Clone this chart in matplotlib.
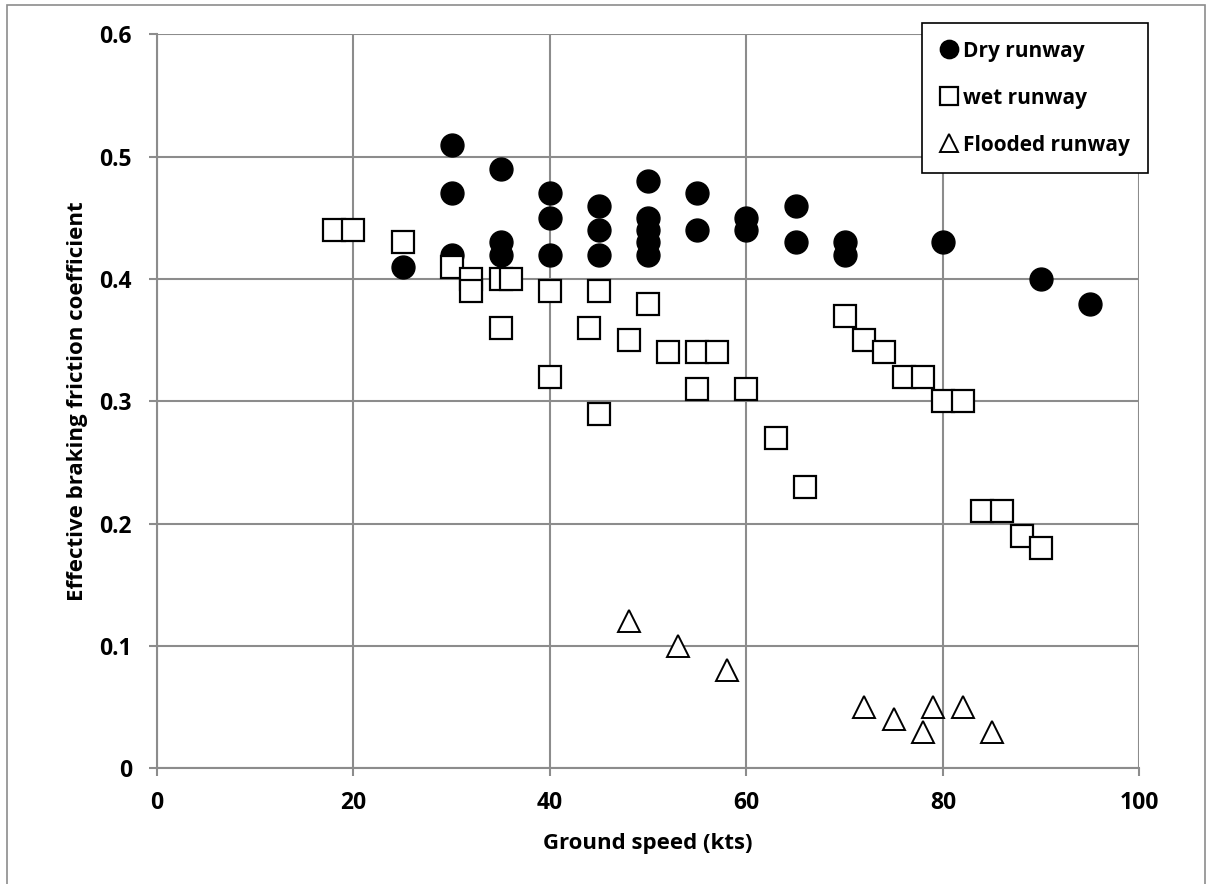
import matplotlib.pyplot as plt
from matplotlib.patches import Rectangle

# ground speed (kts) and effective braking friction coefficient
dry_speed = [25, 30, 30, 30, 35, 35, 35, 40, 40, 40, 45, 45, 45,
             50, 50, 50, 50, 50, 55, 55, 60, 60, 65, 65, 70, 70, 80, 90, 95]
dry_mu = [0.41, 0.51, 0.47, 0.42, 0.49, 0.43, 0.42, 0.47, 0.45, 0.42, 0.46, 0.44, 0.42,
          0.48, 0.45, 0.44, 0.43, 0.42, 0.47, 0.44, 0.45, 0.44, 0.46, 0.43, 0.43, 0.42, 0.43, 0.40, 0.38]

wet_speed = [18, 20, 25, 30, 32, 32, 35, 36, 35, 40, 40, 44, 45, 45, 48, 50,
             52, 55, 57, 55, 60, 63, 66, 70, 72, 74, 76, 78, 80, 82, 84, 86, 88, 90]
wet_mu = [0.44, 0.44, 0.43, 0.41, 0.40, 0.39, 0.40, 0.40, 0.36, 0.39, 0.32, 0.36, 0.39, 0.29, 0.35, 0.38,
          0.34, 0.34, 0.34, 0.31, 0.31, 0.27, 0.23, 0.37, 0.35, 0.34, 0.32, 0.32, 0.30, 0.30, 0.21, 0.21, 0.19, 0.18]

flood_speed = [48, 53, 58, 72, 75, 78, 79, 82, 85]
flood_mu = [0.12, 0.10, 0.08, 0.05, 0.04, 0.03, 0.05, 0.05, 0.03]

plt.rcParams['font.family'] = ['Open Sans', 'DejaVu Sans']
plt.rcParams['font.weight'] = 'bold'

fig = plt.figure(figsize=(12.07, 8.84), dpi=100)
ax = fig.add_axes([0.130, 0.131, 0.814, 0.830])

# outer chart border (bottom edge lies outside the picture)
fig.patches.append(Rectangle((0.0058, -0.01), 0.9925, 1.004, transform=fig.transFigure,
                             fill=False, edgecolor='#8c8c8c', linewidth=1.2))

ax.plot(dry_speed, dry_mu, 'o', ms=16.5, color='black', mec='black',
        label='Dry runway', zorder=3)
ax.plot(wet_speed, wet_mu, 's', ms=15.5, mfc='white', mec='black', mew=1.6,
        label='wet runway', zorder=3)
ax.plot(flood_speed, flood_mu, '^', ms=16, mfc='white', mec='black', mew=1.4,
        label='Flooded runway', zorder=3)

ax.set_xlim(0, 100)
ax.set_ylim(0, 0.6)
ax.set_xticks(range(0, 101, 20))
ax.set_yticks([0, 0.1, 0.2, 0.3, 0.4, 0.5, 0.6])
ax.set_yticklabels(['0', '0.1', '0.2', '0.3', '0.4', '0.5', '0.6'])
ax.grid(True, color='#8c8c8c', linewidth=1.5)
ax.set_axisbelow(True)
for side in ['top', 'right']:
    ax.spines[side].set_visible(False)
for side in ['left', 'bottom']:
    ax.spines[side].set_color('#8c8c8c')
    ax.spines[side].set_linewidth(1.5)
ax.tick_params(colors='#8c8c8c', labelcolor='black', length=6, width=1.5,
               labelsize=16.5)
ax.tick_params(axis='x', pad=10.5)
ax.tick_params(axis='y', pad=12)

ax.set_xlabel('Ground speed (kts)', fontsize=16, fontweight='bold', labelpad=13)
ax.set_ylabel('Effective braking friction coefficient', fontsize=16,
              fontweight='bold', labelpad=8)

leg = ax.legend(loc='upper right', bbox_to_anchor=(0.951, 0.974),
                bbox_transform=fig.transFigure, fancybox=False, framealpha=1,
                edgecolor='black', fontsize=15, markerscale=0.8,
                handlelength=0.9, handletextpad=0.25, labelspacing=1.25,
                borderpad=0.85, borderaxespad=0)
leg.get_frame().set_linewidth(1.2)
leg.set_zorder(5)

fig.savefig('out.png', dpi=100)
